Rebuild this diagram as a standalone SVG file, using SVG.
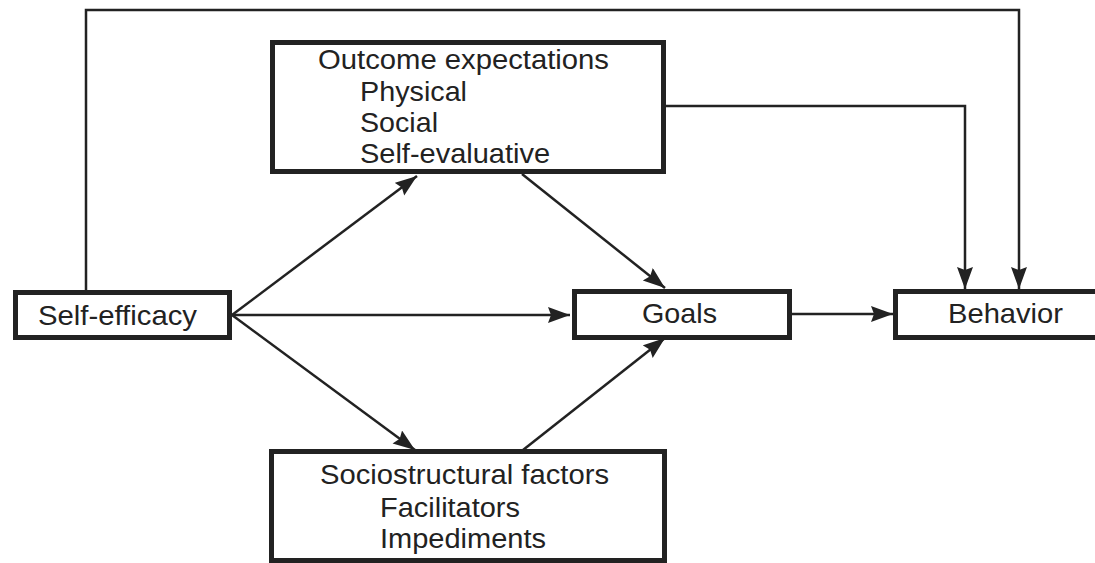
<svg xmlns="http://www.w3.org/2000/svg" width="1095" height="563" viewBox="0 0 1095 563">
<style>
.box{fill:#fff;stroke:#222;stroke-width:5}
.t{font-family:"Liberation Sans",Arial,sans-serif;font-size:27.5px;fill:#222}
.c{fill:none;stroke:#222;stroke-width:2.5}
</style>
<defs>
<marker id="ah" markerUnits="userSpaceOnUse" markerWidth="24" markerHeight="17" refX="22" refY="8" orient="auto">
<path d="M0,0 L22,8 L0,16 L3,8 Z" fill="#222"/>
</marker>
</defs>
<rect width="1095" height="563" fill="#fff"/>
<g id="connectors">
<path class="c" d="M86,292 L86,10 L1019,10 L1019,289" marker-end="url(#ah)"/>
<path class="c" d="M665,106 L965,106 L965,289" marker-end="url(#ah)"/>
<path class="c" d="M232,315 L417,176" marker-end="url(#ah)"/>
<path class="c" d="M232,315 L570,315" marker-end="url(#ah)"/>
<path class="c" d="M232,315 L415,450" marker-end="url(#ah)"/>
<path class="c" d="M522,174 L665,288" marker-end="url(#ah)"/>
<path class="c" d="M523,450 L665,338" marker-end="url(#ah)"/>
<path class="c" d="M790,314 L893,314" marker-end="url(#ah)"/>
</g>
<g id="self-efficacy">
<rect class="box" x="15.5" y="292.5" width="214" height="45"/>
<text class="t" x="38" y="325" textLength="159" lengthAdjust="spacingAndGlyphs">Self-efficacy</text>
</g>
<g id="outcome-expectations">
<rect class="box" x="272.5" y="42.5" width="391" height="129"/>
<text class="t" x="318" y="69" textLength="291" lengthAdjust="spacingAndGlyphs">Outcome expectations</text>
<text class="t" x="360" y="101" textLength="107" lengthAdjust="spacingAndGlyphs">Physical</text>
<text class="t" x="360" y="132" textLength="78" lengthAdjust="spacingAndGlyphs">Social</text>
<text class="t" x="360" y="163" textLength="190" lengthAdjust="spacingAndGlyphs">Self-evaluative</text>
</g>
<g id="goals">
<rect class="box" x="574.5" y="291.5" width="215" height="46"/>
<text class="t" x="642" y="323" textLength="75" lengthAdjust="spacingAndGlyphs">Goals</text>
</g>
<g id="behavior">
<rect class="box" x="895.5" y="291.5" width="220" height="46"/>
<text class="t" x="948" y="323" textLength="115" lengthAdjust="spacingAndGlyphs">Behavior</text>
</g>
<g id="sociostructural-factors">
<rect class="box" x="271.5" y="451.5" width="393" height="109"/>
<text class="t" x="320" y="484" textLength="289" lengthAdjust="spacingAndGlyphs">Sociostructural factors</text>
<text class="t" x="380" y="517" textLength="140" lengthAdjust="spacingAndGlyphs">Facilitators</text>
<text class="t" x="380" y="548" textLength="166" lengthAdjust="spacingAndGlyphs">Impediments</text>
</g>
</svg>
